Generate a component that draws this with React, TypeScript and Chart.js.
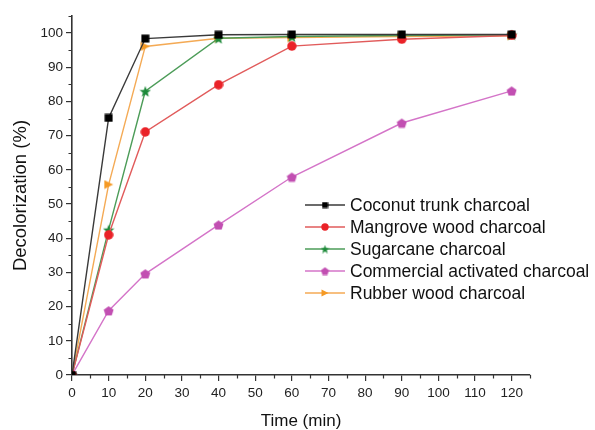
import React, { useEffect, useRef } from "react";
import { Chart, registerables } from "chart.js";

Chart.register(...registerables);

const times = [0, 10, 20, 40, 60, 90, 120];
const coconut = [0, 75.2, 98.4, 99.5, 99.6, 99.6, 99.6];
const mangrove = [0, 41, 71.1, 84.9, 96.2, 98.2, 99.3];
const sugarcane = [0, 42.5, 83, 98.5, 99, 99.3, 99.5];
const commercial = [0, 18.8, 29.6, 43.9, 57.9, 73.7, 83.1];
const rubber = [0, 55.7, 96.1, 98.5, 98.7, 99, 99.2];

const seriesNames = [
  "Coconut trunk charcoal",
  "Mangrove wood charcoal",
  "Sugarcane charcoal",
  "Commercial activated charcoal",
  "Rubber wood charcoal",
];

const FONT = "'Liberation Sans', Arial, sans-serif";

function makeMarker(shape: string, color: string, size: number): HTMLCanvasElement {
  const c = document.createElement("canvas");
  c.width = size;
  c.height = size;
  const ctx = c.getContext("2d")!;
  ctx.fillStyle = color;
  const cx = size / 2;
  const cy = size / 2;
  ctx.beginPath();
  if (shape === "square") {
    ctx.rect(0.5, 0.5, size - 1, size - 1);
  } else if (shape === "circle") {
    ctx.arc(cx, cy, size / 2 - 0.3, 0, Math.PI * 2);
  } else if (shape === "star") {
    const ro = size / 2;
    const ri = ro * 0.42;
    for (let i = 0; i < 10; i++) {
      const r = i % 2 === 0 ? ro : ri;
      const a = -Math.PI / 2 + (i * Math.PI) / 5;
      const px = cx + r * Math.cos(a);
      const py = cy + size * 0.06 + r * Math.sin(a);
      if (i === 0) ctx.moveTo(px, py);
      else ctx.lineTo(px, py);
    }
    ctx.closePath();
  } else if (shape === "pentagon") {
    const r = size / 2 - 0.3;
    for (let i = 0; i < 5; i++) {
      const a = -Math.PI / 2 + (i * 2 * Math.PI) / 5;
      const px = cx + r * Math.cos(a);
      const py = cy + size * 0.06 + r * Math.sin(a);
      if (i === 0) ctx.moveTo(px, py);
      else ctx.lineTo(px, py);
    }
    ctx.closePath();
  } else if (shape === "triangle") {
    ctx.moveTo(0.5, 0.5);
    ctx.lineTo(size - 0.5, cy);
    ctx.lineTo(0.5, size - 0.5);
    ctx.closePath();
  }
  ctx.fill();
  return c;
}

export default function App() {
  const ref = useRef<HTMLCanvasElement | null>(null);

  useEffect(() => {
    document.body.style.margin = "0";
    const canvas = ref.current!;
    const specs = [
      { data: coconut, line: "#3a3a3a", shape: "square", color: "#000000", size: 9, lsize: 7 },
      { data: mangrove, line: "#e15b5b", shape: "circle", color: "#ea2228", size: 10, lsize: 8 },
      { data: sugarcane, line: "#4c9c58", shape: "star", color: "#1d8a3a", size: 12, lsize: 9 },
      { data: commercial, line: "#d474c8", shape: "pentagon", color: "#c24fb2", size: 11, lsize: 9 },
      { data: rubber, line: "#f4aa55", shape: "triangle", color: "#f59a25", size: 10, lsize: 8 },
    ].map((s) => ({
      ...s,
      marker: makeMarker(s.shape, s.color, s.size),
      lmarker: makeMarker(s.shape, s.color, s.lsize),
    }));

    const extras = {
      id: "extras",
      afterDraw(chart: any) {
        const ctx = chart.ctx;
        const xs = chart.scales.x;
        const ys = chart.scales.y;
        ctx.save();
        ctx.strokeStyle = "#333";
        ctx.lineWidth = 1.2;
        ctx.beginPath();
        for (let v = 5; v <= 125; v += 10) {
          const px = Math.round(xs.getPixelForValue(v)) + 0.5;
          ctx.moveTo(px, xs.top);
          ctx.lineTo(px, xs.top + 3.5);
        }
        for (let v = 5; v <= 105; v += 10) {
          const py = Math.round(ys.getPixelForValue(v)) + 0.5;
          ctx.moveTo(ys.right, py);
          ctx.lineTo(ys.right - 3.5, py);
        }
        ctx.stroke();

        // legend
        const ca = chart.chartArea;
        const lx = ca.left + 233;
        let ly = ca.top + 189;
        ctx.font = `17.5px ${FONT}`;
        ctx.textBaseline = "middle";
        ctx.textAlign = "left";
        specs.forEach((s, i) => {
          ctx.strokeStyle = s.line;
          ctx.lineWidth = 1.3;
          ctx.beginPath();
          ctx.moveTo(lx, ly);
          ctx.lineTo(lx + 40, ly);
          ctx.stroke();
          const m = s.lmarker;
          ctx.drawImage(m, lx + 20 - m.width / 2, ly - m.height / 2);
          ctx.fillStyle = "#111";
          ctx.fillText(seriesNames[i], lx + 45, ly + 1);
          ly += 22;
        });
        ctx.restore();
      },
    };

    const chart = new Chart(canvas, {
      type: "line",
      data: {
        datasets: specs.map((s, i) => ({
          label: seriesNames[i],
          data: times.map((t, j) => ({ x: t, y: s.data[j] })),
          borderColor: s.line,
          backgroundColor: s.line,
          borderWidth: 1.4,
          pointStyle: s.marker as any,
          pointRadius: 5,
          pointHoverRadius: 5,
          tension: 0,
          fill: false,
        })),
      },
      options: {
        responsive: false,
        animation: false,
        events: [],
        layout: { padding: { left: 0, top: 16, right: 65, bottom: 0 } },
        plugins: {
          legend: { display: false },
          tooltip: { enabled: false },
        },
        scales: {
          x: {
            type: "linear",
            min: 0,
            max: 125,
            afterFit: (s: any) => {
              s.height = 55;
            },
            afterBuildTicks: (s: any) => {
              s.ticks = s.ticks.filter((t: any) => t.value % 10 === 0);
            },
            ticks: {
              stepSize: 10,
              includeBounds: false,
              color: "#222",
              font: { family: FONT, size: 13.5 },
              padding: 4,
              maxRotation: 0,
            },
            grid: {
              drawOnChartArea: false,
              drawTicks: true,
              tickLength: 6,
              color: "#333",
              lineWidth: 1.2,
            },
            border: { display: true, color: "#333", width: 1.6 },
            title: {
              display: true,
              text: "Time (min)",
              color: "#111",
              font: { family: FONT, size: 17, lineHeight: 1 },
              padding: { top: 6, bottom: 0 },
            },
          } as any,
          y: {
            type: "linear",
            min: 0,
            max: 105,
            afterFit: (s: any) => {
              s.width = 72;
            },
            afterBuildTicks: (s: any) => {
              s.ticks = s.ticks.filter((t: any) => t.value % 10 === 0);
            },
            ticks: {
              stepSize: 10,
              includeBounds: false,
              color: "#222",
              font: { family: FONT, size: 13.5 },
              padding: 3,
            },
            grid: {
              drawOnChartArea: false,
              drawTicks: true,
              tickLength: 6,
              color: "#333",
              lineWidth: 1.2,
            },
            border: { display: true, color: "#333", width: 1.6 },
            title: {
              display: true,
              text: "Decolorization (%)",
              color: "#111",
              font: { family: FONT, size: 18.5, lineHeight: 1.2 },
              padding: { top: 10, bottom: 0 },
            },
          } as any,
        },
      },
      plugins: [extras],
    });
    return () => chart.destroy();
  }, []);

  return <canvas ref={ref} width={595} height={430} style={{ display: "block" }} />;
}
